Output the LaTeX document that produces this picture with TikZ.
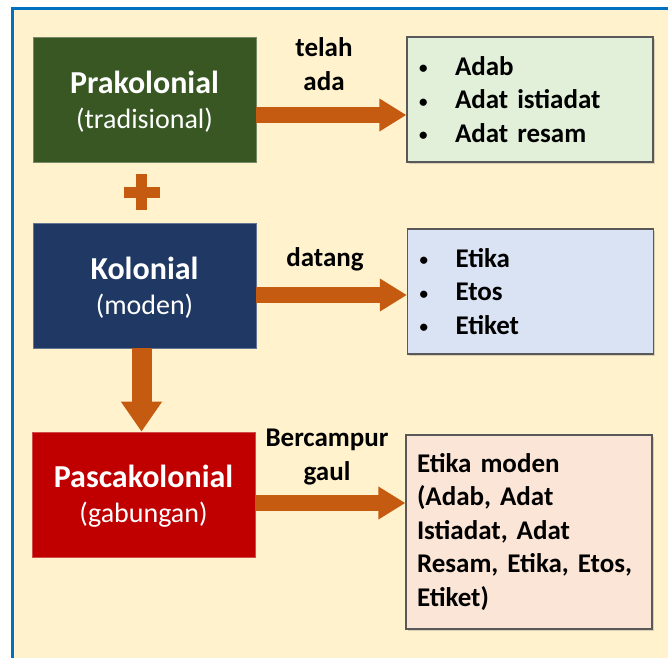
\documentclass[tikz,border=0pt]{standalone}
\usepackage{fontspec}
\setmainfont{Carlito}
\usetikzlibrary{arrows.meta,shadows}
\definecolor{cream}{HTML}{FFF2CC}
\definecolor{frameblue}{HTML}{0070C0}
\definecolor{pragreen}{HTML}{385723}
\definecolor{kolblue}{HTML}{203864}
\definecolor{pasred}{HTML}{C00000}
\definecolor{arrowc}{HTML}{C55A11}
\definecolor{listgreen}{HTML}{E2F0D9}
\definecolor{listblue}{HTML}{DAE3F3}
\definecolor{listpeach}{HTML}{FBE5D6}
\tikzset{
  stage/.style={fill=#1, draw=#1!70!white, line width=0.6pt, text=white,
    align=center, minimum width=223pt, minimum height=125pt, inner sep=0pt,
    font=\fontsize{28}{35}\selectfont},
  result/.style={fill=#1, draw=black!65, line width=1.2pt, text width=224pt,
    inner xsep=11pt, align=left, minimum height=125pt,
    font=\fontsize{27}{33.5}\selectfont\bfseries,
    drop shadow={shadow xshift=1.5pt, shadow yshift=-1.5pt, opacity=0.3}},
  verb/.style={font=\fontsize{27}{34}\selectfont\bfseries, align=center},
  fat/.style={draw=arrowc, line width=16pt, -{Triangle[width=31pt,length=27pt]}},
}
\newcommand{\stagetitle}[2]{\rule{0pt}{26pt}{\fontsize{32}{36}\selectfont\bfseries #1}\\(#2)}
\newcommand{\bul}[1]{\makebox[37pt][l]{\hspace{1pt}\raisebox{1.5pt}{\fontsize{17}{17}\selectfont\textbullet}}#1}
\begin{document}
\begin{tikzpicture}[x=1pt,y=-1pt]
      \clip (0,0) rectangle (668,657);
      \fill[white] (0,0) rectangle (668,657);
      \fill[cream] (12.5,8.5) rectangle (700,700);
      \draw[frameblue, line width=3.5pt] (12.5,700) -- (12.5,8.5) -- (700,8.5);
      \node[stage=pragreen] (pra) at (144.5,99.5) {\stagetitle{Prakolonial}{tradisional}};
      \node[stage=kolblue] (kol) at (144.5,285.5) {\stagetitle{Kolonial}{moden}};
      \node[stage=pasred] (pas) at (143.5,494.5) {\stagetitle{Pascakolonial}{gabungan}};
      \node[result=listgreen] (r1) at (530,99.5)
        {\bul{Adab}\\\bul{Adat istiadat}\\\bul{Adat resam}};
      \node[result=listblue] (r2) at (530.5,291.5)
        {\bul{Etika}\\\bul{Etos}\\\bul{Etiket}};
      \node[result=listpeach, minimum height=194pt] (r3) at (529,532)
        {Etika moden\\(Adab, Adat\\Istiadat, Adat\\Resam, Etika, Etos,\\Etiket)};
      \node[verb] (v1) at (324,64) {telah\\ada};
      \node[verb] (v2) at (325,259) {datang};
      \node[verb] (v3) at (327,457) {Bercampur\\gaul};
      \coordinate (plus) at (141.5,192);
      \begin{scope}[arrowc]
        \fill ([shift={(-5.5,-18)}]plus) rectangle ([shift={(5.5,18)}]plus);
        \fill ([shift={(-18,-5.5)}]plus) rectangle ([shift={(18,5.5)}]plus);
        \draw[fat] ([yshift=-15.5pt]pra.east) -- ([yshift=-15.5pt]pra.east -| r1.west);
        \draw[fat] ([yshift=-9.5pt]kol.east) -- ([yshift=-9.5pt]kol.east -| r2.west);
        \draw[fat] ([yshift=-8.5pt]pas.east) -- ([yshift=-8.5pt]pas.east -| r3.west);
        \draw[draw=arrowc, line width=20pt, -{Triangle[width=39pt,length=30pt]}]
          ([xshift=-3pt]kol.south) -- ([xshift=-3pt]kol.south |- pas.north);
      \end{scope}
    \end{tikzpicture}
\end{document}
